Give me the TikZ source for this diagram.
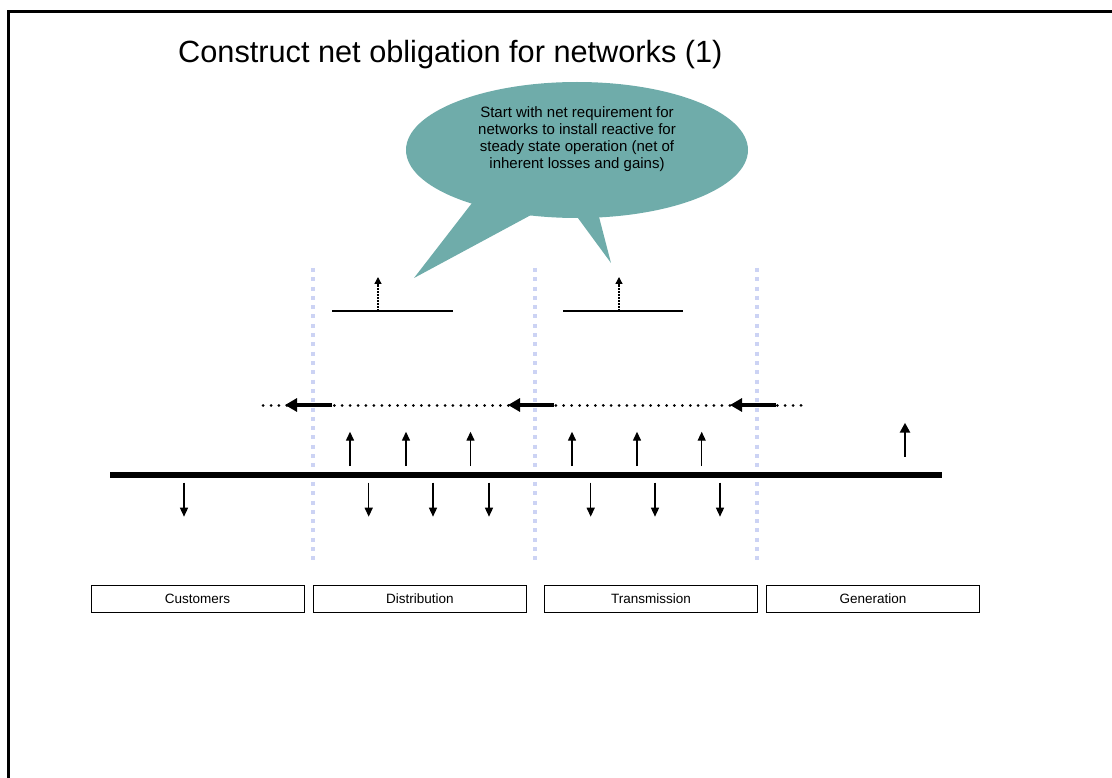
\documentclass[tikz,border=0pt]{standalone}
\usepackage{fontspec}
\setmainfont{Liberation Sans}
\usetikzlibrary{arrows.meta}
\definecolor{calloutteal}{RGB}{111,172,170}
\definecolor{sepblue}{RGB}{204,211,244}
\begin{document}
\begin{tikzpicture}[x=1pt,y=-1pt,
  sepline/.style={draw=sepblue, line width=4pt, dash pattern=on 4pt off 5.3pt},
  dotline/.style={line width=3pt, dash pattern=on 0.01pt off 7.9pt, line cap=round},
  flowarrow/.style={line width=4pt, -{Triangle[length=12pt,width=13pt]}},
  thinup/.style={line width=1.4pt, -{Triangle[length=9pt,width=8pt]}},
  genarrow/.style={line width=2.8pt, -{Triangle[length=10pt,width=10pt]}},
  reqarrow/.style={line width=1.3pt, dash pattern=on 1.5pt off 1.5pt, -{Triangle[length=7pt,width=7pt,sep=0pt]}},
  box/.style={draw, line width=1pt, minimum width=213pt, minimum height=27pt, inner sep=0pt, font=\fontsize{13.5}{16}\selectfont},
]
\useasboundingbox (0,0) rectangle (1112,778);
% frame
\draw[line width=2.7pt] (8.7,778) -- (8.7,11.3) -- (1112,11.3);
% title
\node[anchor=base west, inner sep=0pt, font=\fontsize{30.7}{36}\selectfont] (title) at (178,63) {Construct net obligation for networks (1)};
% callout
\fill[calloutteal] (577,150) ellipse [x radius=171, y radius=68];
\fill[calloutteal] (472,203) -- (414,278) -- (531,215) -- cycle;
\fill[calloutteal] (575,214) -- (611,263) -- (598,213) -- cycle;
\node[align=center, inner sep=0pt, font=\fontsize{15}{17}\selectfont] (callout) at (577,139)
  {Start with net requirement for\\networks to install reactive for\\steady state operation (net of\\inherent losses and gains)};
% separators
\foreach \x/\n in {313/s1,535/s2,757/s3}{
  \coordinate (\n top) at (\x,268);
  \coordinate (\n bot) at (\x,561);
  \draw[sepline] (\n top) -- (\n bot);
}
% short lines with dotted requirement arrows
\coordinate (d1a) at (332,311); \coordinate (d1b) at (453,311);
\coordinate (d2a) at (563,311); \coordinate (d2b) at (683,311);
\draw[line width=1.2pt] (d1a) -- (d1b);
\draw[line width=1.2pt] (d2a) -- (d2b);
\coordinate (r1a) at (378,311); \coordinate (r1b) at (378,277);
\coordinate (r2a) at (619,311); \coordinate (r2b) at (619,277);
\draw[reqarrow] (r1a) -- (r1b);
\draw[reqarrow] (r2a) -- (r2b);
% dotted flow line
\coordinate (fR) at (801,405); \coordinate (fL) at (257,405);
\draw[dotline] (fR) -- (fL);
\foreach \t/\h/\n in {331.7/285/f1,553.7/508/f2,775.7/730/f3}{
  \coordinate (\n a) at (\t,405); \coordinate (\n b) at (\h,405);
  \draw[flowarrow] (\n a) -- (\n b);
}
% bus
\coordinate (busL) at (110,474.7); \coordinate (busR) at (942,474.7);
\draw[line width=6pt] (busL) -- (busR);
% up arrows
\foreach \x [count=\i] in {350,406,470.5,572,637,701.7}{
  \coordinate (u\i a) at (\x,466); \coordinate (u\i b) at (\x,431.7);
  \draw[thinup] (u\i a) -- (u\i b);
}
% generation arrow
\coordinate (ga) at (905,456.7); \coordinate (gb) at (905,422.7);
\draw[genarrow] (ga) -- (gb);
% down arrows
\foreach \x [count=\i] in {184,368.7,433,489,590.7,655,720}{
  \coordinate (w\i a) at (\x,482.7); \coordinate (w\i b) at (\x,516.7);
  \draw[thinup] (w\i a) -- (w\i b);
}
% boxes
\node[box] (customers) at (197.5,599) {Customers};
\node[box] (distribution) at (420,599) {Distribution};
\node[box] (transmission) at (651,599) {Transmission};
\node[box] (generation) at (873,599) {Generation};
\end{tikzpicture}
\end{document}
